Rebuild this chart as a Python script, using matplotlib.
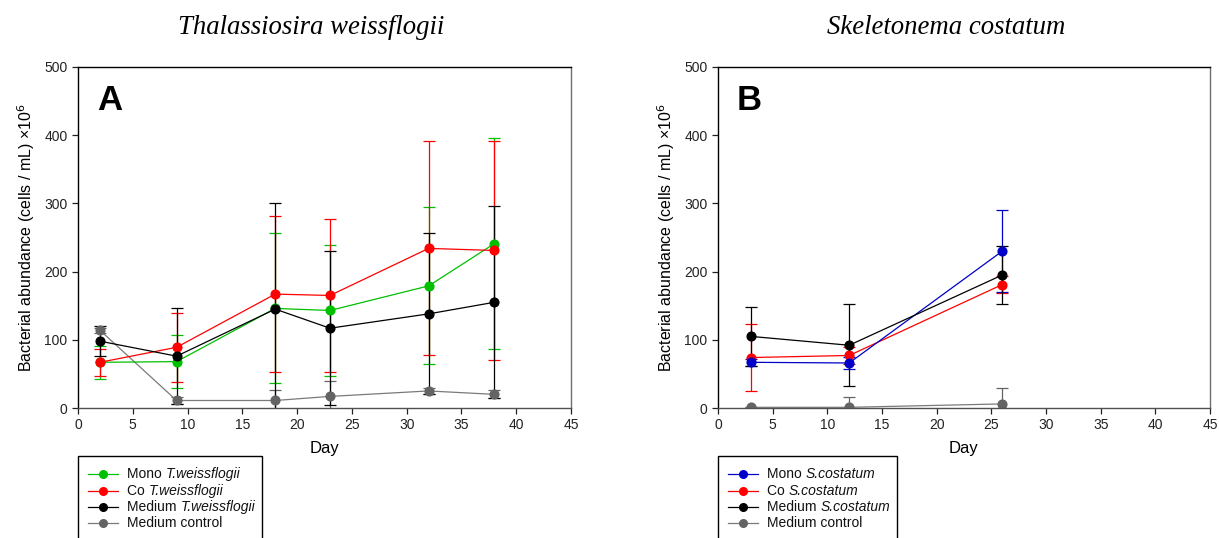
import numpy as np
import matplotlib.pyplot as plt
from matplotlib.lines import Line2D
from matplotlib.patches import Rectangle
from matplotlib.text import Annotation

plt.rcParams['font.family'] = ['Liberation Sans', 'DejaVu Sans']

# ====================== DATI ======================
# Pannello A - Thalassiosira weissflogii
days_a = [2, 9, 18, 23, 32, 38]
mono_tw = [67, 68, 146, 143, 179, 241]
mono_tw_err = [24, 39, 110, 96, 115, 155]
co_tw = [67, 89, 167, 165, 234, 231]
co_tw_err = [20, 51, 114, 112, 157, 160]
med_tw = [98, 76, 145, 117, 138, 155]
med_tw_err = [22, 70, 156, 113, 118, 141]
ctrl_a = [114, 11, 11, 17, 25, 20]
ctrl_a_err = [4, 5, 16, 23, 5, 6]

# Pannello B - Skeletonema costatum
days_b = [3, 12, 26]
mono_sc = [67, 66, 230]
mono_sc_err = [5, 9, 60]
co_sc = [74, 77, 181]
co_sc_err = [49, 13, 12]
med_sc = [105, 92, 195]
med_sc_err = [43, 60, 42]
ctrl_b = [1, 1, 6]
ctrl_b_err = [0, 15, 24]

# Legenda: parte normale + parte corsiva
leg_a_plain = ['Mono ', 'Co ', 'Medium ', 'Medium control']
leg_a_ital = ['T.weissflogii', 'T.weissflogii', 'T.weissflogii', '']
leg_b_plain = ['Mono ', 'Co ', 'Medium ', 'Medium control']
leg_b_ital = ['S.costatum', 'S.costatum', 'S.costatum', '']

GREEN = '#00c000'
RED = '#ff0000'
BLACK = '#000000'
GRAY = '#646464'
GRAY_LINE = '#7a7a7a'
BLUE = '#0000c8'

W, H = 1219, 538

# ====================== PLOT ======================
fig = plt.figure(figsize=(W / 100, H / 100), dpi=100)
ax_a = fig.add_axes([78 / W, 1 - 408 / H, 493 / W, 341 / H])
ax_b = fig.add_axes([718 / W, 1 - 408 / H, 492 / W, 341 / H])


def draw_series(ax, x, y, err, color, line_color=None):
    ax.errorbar(x, y, yerr=err, color=line_color or color, ecolor=color,
                marker='o', markersize=6.3, markerfacecolor=color,
                markeredgecolor=color, linewidth=0.9, elinewidth=0.9,
                capsize=4, capthick=0.9)


draw_series(ax_a, days_a, ctrl_a, ctrl_a_err, GRAY, GRAY_LINE)
draw_series(ax_a, days_a, mono_tw, mono_tw_err, GREEN)
draw_series(ax_a, days_a, co_tw, co_tw_err, RED)
draw_series(ax_a, days_a, med_tw, med_tw_err, BLACK)

draw_series(ax_b, days_b, ctrl_b, ctrl_b_err, GRAY, GRAY_LINE)
draw_series(ax_b, days_b, co_sc, co_sc_err, RED)
draw_series(ax_b, days_b, mono_sc, mono_sc_err, BLUE)
draw_series(ax_b, days_b, med_sc, med_sc_err, BLACK)

# Stile assi
for ax, letter in [(ax_a, 'A'), (ax_b, 'B')]:
    ax.set_xlim(0, 45)
    ax.set_ylim(0, 500)
    ax.set_xticks(np.arange(0, 46, 5))
    ax.set_yticks(np.arange(0, 501, 100))
    ax.tick_params(axis='both', direction='out', length=4, width=0.9,
                   labelsize=10, colors='#222222')
    for s in ax.spines.values():
        s.set_linewidth(1.0)
    ax.spines['right'].set_color('#707070')
    ax.spines['bottom'].set_color('#505050')
    ax.set_xlabel('Day', fontsize=12, labelpad=6)
    ax.set_ylabel('Bacterial abundance (cells / mL) \u00d710$^6$',
                  fontsize=11.5, labelpad=5)
    ax.text(0.038, 0.95, letter, transform=ax.transAxes, fontsize=25,
            fontweight='bold', va='top', ha='left')

# Titoli
fig.text(311 / W, 1 - 28 / H, 'Thalassiosira weissflogii',
         family='Liberation Serif', style='italic', fontsize=19.3,
         ha='center', va='center')
fig.text(946 / W, 1 - 28 / H, 'Skeletonema costatum',
         family='Liberation Serif', style='italic', fontsize=19.3,
         ha='center', va='center')

# Legende disegnate a mano (testo misto normale/corsivo)
rows_y = [474, 491, 507, 523]
legends = [
    (78, 262, [GREEN, RED, BLACK, GRAY], leg_a_plain, leg_a_ital),
    (718, 897, [BLUE, RED, BLACK, GRAY], leg_b_plain, leg_b_ital),
]
for x0, x1, colors, plain, ital in legends:
    fig.patches.append(Rectangle((x0 / W, 1 - 548 / H), (x1 - x0) / W, 92 / H,
                                 transform=fig.transFigure, fill=False,
                                 edgecolor='black', linewidth=1.0))
    for yy, col, p, it in zip(rows_y, colors, plain, ital):
        yf = 1 - yy / H
        lc = GRAY_LINE if col == GRAY else col
        fig.add_artist(Line2D([(x0 + 10) / W, (x0 + 40) / W], [yf, yf],
                              transform=fig.transFigure, color=lc, linewidth=0.9))
        fig.add_artist(Line2D([(x0 + 25) / W], [yf], transform=fig.transFigure,
                              marker='o', markersize=5.5, color=col,
                              markeredgecolor=col))
        t = fig.text((x0 + 49) / W, yf - 4 / H, p, fontsize=10, ha='left',
                     va='baseline', color='#111111')
        if it:
            fig.add_artist(Annotation(it, xy=(1, 0), xycoords=t,
                                      va='bottom', ha='left', fontsize=10,
                                      style='italic', color='#111111'))

plt.savefig('out.png', dpi=100)
